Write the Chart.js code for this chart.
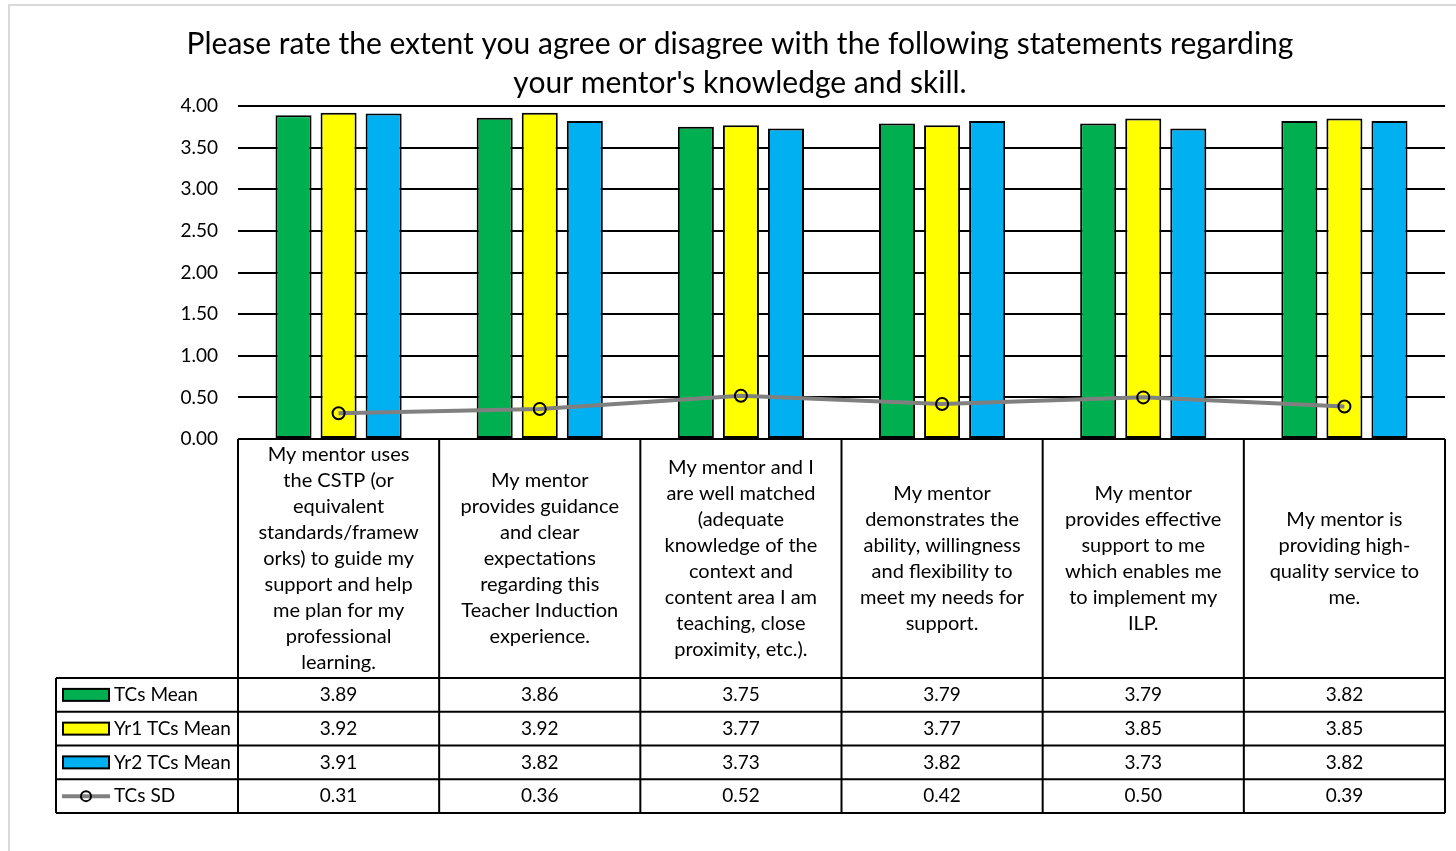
<!DOCTYPE html>
<html>
<head>
<meta charset="utf-8">
<script src="https://cdn.jsdelivr.net/npm/chart.js"></script>
<style>
  body { margin: 0; background: #fff; overflow: hidden; }
  #frame { position: absolute; left: 8px; top: 4px; width: 1470px; height: 870px; border: 2px solid #d9d9d9; }
  #chart { position: absolute; left: 0; top: 0; }
</style>
</head>
<body>
<div id="frame"></div>
<canvas id="chart" width="1456" height="851"></canvas>
<script>
const categories = [
  ["My mentor uses", "the CSTP (or", "equivalent", "standards/framew", "orks) to guide my", "support and help", "me plan for my", "professional", "learning."],
  ["My mentor", "provides guidance", "and clear", "expectations", "regarding this", "Teacher Induction", "experience."],
  ["My mentor and I", "are well matched", "(adequate", "knowledge of the", "context and", "content area I am", "teaching, close", "proximity, etc.)."],
  ["My mentor", "demonstrates the", "ability, willingness", "and flexibility to", "meet my needs for", "support."],
  ["My mentor", "provides effective", "support to me", "which enables me", "to implement my", "ILP."],
  ["My mentor is", "providing high-", "quality service to", "me."]
];
const tcsMean = [3.89, 3.86, 3.75, 3.79, 3.79, 3.82];
const yr1Mean = [3.92, 3.92, 3.77, 3.77, 3.85, 3.85];
const yr2Mean = [3.91, 3.82, 3.73, 3.82, 3.73, 3.82];
const tcsSD = [0.31, 0.36, 0.52, 0.42, 0.50, 0.39];
const seriesNames = ["TCs Mean", "Yr1 TCs Mean", "Yr2 TCs Mean", "TCs SD"];
const yTicks = [0, 0.5, 1, 1.5, 2, 2.5, 3, 3.5, 4];
const titleLines = [
  "Please rate the extent you agree or disagree with the following statements regarding",
  "your mentor's knowledge and skill."
];

const GREEN = "#00B050", YELLOW = "#FFFF00", BLUE = "#00B0F0", GRAY = "#808080";
const FONT = "Lato";
const PAD_LEFT = 35;
const TABLE_LEFT = 56;
const LABEL_ROW_H = 239;
const ROW_H = 33.75;
const LINE_H = 26;

// data table under the plot, columns follow the x scale
const dataTable = {
  id: "dataTable",
  afterDraw(chart) {
    const { ctx, chartArea: area, scales: { x } } = chart;
    const n = categories.length;
    const colW = (area.right - area.left) / n;
    const edges = categories.map((c, i) => x.getPixelForValue(i) - colW / 2);
    edges.push(area.right);
    const top = area.bottom;
    const rowTops = [top, top + LABEL_ROW_H];
    for (let r = 1; r <= 4; r++) rowTops.push(top + LABEL_ROW_H + r * ROW_H);
    const bottom = rowTops[rowTops.length - 1];

    ctx.save();
    ctx.strokeStyle = "#000";
    ctx.lineWidth = 2;
    ctx.beginPath();
    ctx.moveTo(area.left, top);
    ctx.lineTo(area.right, top);
    for (let k = 1; k < rowTops.length; k++) {
      ctx.moveTo(TABLE_LEFT, rowTops[k]);
      ctx.lineTo(area.right, rowTops[k]);
    }
    edges.forEach(e => { ctx.moveTo(e, top); ctx.lineTo(e, bottom); });
    ctx.moveTo(TABLE_LEFT, rowTops[1]);
    ctx.lineTo(TABLE_LEFT, bottom);
    ctx.stroke();

    ctx.fillStyle = "#000";
    ctx.font = "20px " + FONT;
    ctx.textAlign = "center";
    ctx.textBaseline = "middle";
    categories.forEach((lines, i) => {
      const cx = x.getPixelForValue(i);
      const cy = top + LABEL_ROW_H / 2;
      lines.forEach((s, k) => ctx.fillText(s, cx, cy + (k - (lines.length - 1) / 2) * LINE_H));
    });

    ctx.font = "19px " + FONT;
    const rows = [tcsMean, yr1Mean, yr2Mean, tcsSD];
    const colors = [GREEN, YELLOW, BLUE, null];
    rows.forEach((vals, r) => {
      const cy = rowTops[r + 1] + ROW_H / 2;
      ctx.textAlign = "center";
      vals.forEach((v, i) => ctx.fillText(v.toFixed(2), x.getPixelForValue(i), cy));
      // legend key
      if (colors[r]) {
        ctx.fillStyle = colors[r];
        ctx.fillRect(63, cy - 6, 46, 12);
        ctx.strokeRect(63, cy - 6, 46, 12);
      } else {
        ctx.strokeStyle = GRAY;
        ctx.lineWidth = 4;
        ctx.beginPath();
        ctx.moveTo(62, cy); ctx.lineTo(110, cy);
        ctx.stroke();
        ctx.strokeStyle = "#000";
        ctx.lineWidth = 2;
        ctx.beginPath();
        ctx.arc(86, cy, 5, 0, Math.PI * 2);
        ctx.stroke();
      }
      ctx.fillStyle = "#000";
      ctx.textAlign = "left";
      ctx.fillText(seriesNames[r], 114, cy);
    });
    ctx.restore();
  }
};

const barStyle = { borderColor: "#000", borderWidth: 2, borderSkipped: false, barPercentage: 0.8, categoryPercentage: 0.672, order: 1 };

new Chart(document.getElementById("chart"), {
  type: "bar",
  data: {
    labels: categories,
    datasets: [
      { label: seriesNames[0], data: tcsMean, backgroundColor: GREEN, ...barStyle },
      { label: seriesNames[1], data: yr1Mean, backgroundColor: YELLOW, ...barStyle },
      { label: seriesNames[2], data: yr2Mean, backgroundColor: BLUE, ...barStyle },
      {
        type: "line", label: seriesNames[3], data: tcsSD, order: 0,
        borderColor: GRAY, borderWidth: 4, tension: 0,
        pointRadius: 6, pointBorderWidth: 2, pointBorderColor: "#000",
        pointBackgroundColor: "rgba(0,0,0,0)"
      }
    ]
  },
  options: {
    responsive: false,
    animation: false,
    layout: { padding: { left: PAD_LEFT, right: 11, top: 25, bottom: 412 } },
    plugins: {
      legend: { display: false },
      tooltip: { enabled: false },
      title: {
        display: true,
        text: titleLines,
        color: "#000",
        font: { family: FONT, size: 30, weight: "normal", lineHeight: 1.3 },
        padding: { top: 0, bottom: 3 }
      }
    },
    scales: {
      x: { display: false },
      y: {
        min: 0,
        max: 4,
        afterBuildTicks(scale) { scale.ticks = yTicks.map(v => ({ value: v })); },
        afterFit(scale) { scale.width = 238 - PAD_LEFT; },
        border: { display: false },
        grid: { color: "#000", lineWidth: 2, drawTicks: false },
        ticks: {
          padding: 20,
          color: "#000",
          font: { family: FONT, size: 19 },
          callback: v => v.toFixed(2)
        }
      }
    }
  },
  plugins: [dataTable]
});
</script>
</body>
</html>
